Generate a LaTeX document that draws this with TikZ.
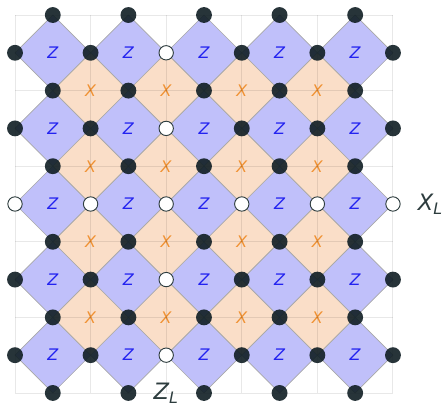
\documentclass[tikz,border=0pt]{standalone}
\usepackage{fontspec}
\setmainfont{DejaVu Sans}
\usetikzlibrary{positioning,calc}
\definecolor{zfill}{RGB}{192,192,250}
\definecolor{xfill}{RGB}{250,222,200}
\definecolor{zlab}{RGB}{35,35,240}
\definecolor{xlab}{RGB}{240,145,50}
\definecolor{qdark}{RGB}{16,30,36}
\definecolor{edgegray}{RGB}{168,168,168}
\definecolor{logi}{RGB}{45,60,62}

\begin{document}
\begin{tikzpicture}[
  x=1cm, y=-1cm,
  zplaq/.style={fill=zfill, draw=edgegray, line width=0.5pt},
  xplaq/.style={fill=xfill, draw=edgegray, line width=0.5pt},
  gridline/.style={draw=black, draw opacity=0.09, line width=0.7pt},
  qubit/.style={circle, fill=qdark, fill opacity=0.9, draw=none, minimum size=0.42cm, inner sep=0pt},
  logical/.style={circle, fill=white, draw=logi, line width=0.7pt, minimum size=0.38cm, inner sep=0pt},
  zlabel/.style={text=zlab, font=\fontsize{12}{12}\selectfont\itshape},
  xlabel/.style={text=xlab, font=\fontsize{12}{12}\selectfont\itshape},
  opname/.style={text=logi, font=\fontsize{17}{17}\selectfont\itshape, inner sep=0pt}
]
\useasboundingbox (-0.397,-0.397) rectangle (11.43,10.34);

\foreach \i in {1,3,...,9}
  \foreach \j in {1,3,...,9} {
    \draw[zplaq] (\i-1,\j) -- (\i,\j-1) -- (\i+1,\j) -- (\i,\j+1) -- cycle;
    \node[zlabel] (z-\i-\j) at (\i,\j) {Z};
  }
\foreach \i in {2,4,...,8}
  \foreach \j in {2,4,...,8} {
    \draw[xplaq] (\i-1,\j) -- (\i,\j-1) -- (\i+1,\j) -- (\i,\j+1) -- cycle;
    \node[xlabel] (x-\i-\j) at (\i,\j) {X};
  }

\foreach \k in {0,2,...,10} {
  \draw[gridline] (\k,0) -- (\k,10);
  \draw[gridline] (0,\k) -- (10,\k);
}

\foreach \j in {0,2,...,10}
  \foreach \i in {1,3,...,9}
    \node[qubit] (q-\i-\j) at (\i,\j) {};
\foreach \j in {1,3,...,9}
  \foreach \i in {0,2,...,10} {
    \pgfmathtruncatemacro{\onlog}{(\i==4)+(\j==5)}
    \ifnum\onlog>0
      \node[logical] (q-\i-\j) at (\i,\j) {};
    \else
      \node[qubit] (q-\i-\j) at (\i,\j) {};
    \fi
  }

\node[opname, right=0.45cm of q-10-5] (XL) {X\textsubscript{L}};
\node[opname] (ZL) at (4.0,10.0) {Z\textsubscript{L}};
\end{tikzpicture}
\end{document}
